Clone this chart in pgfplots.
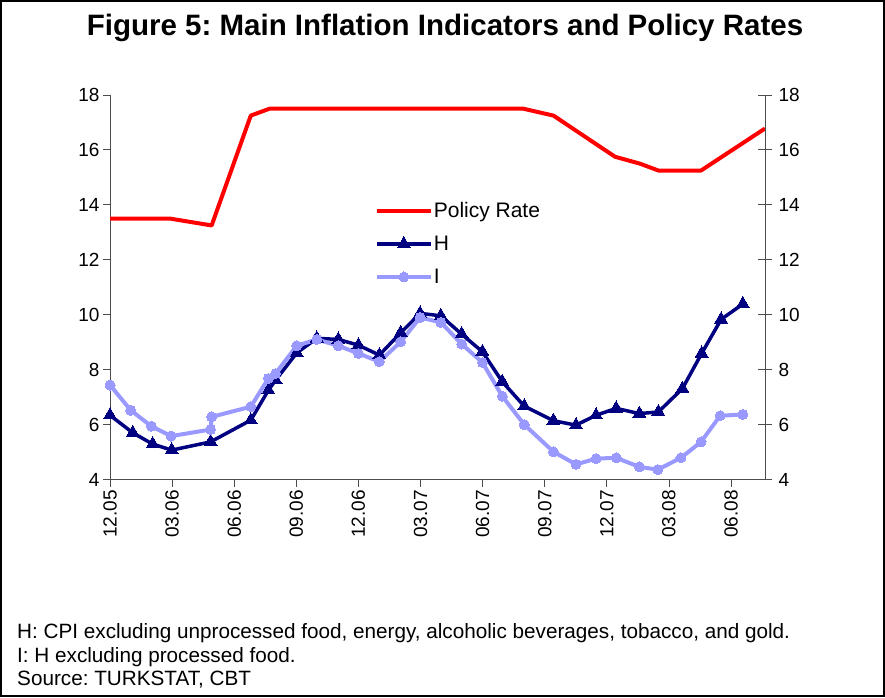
\documentclass[border=0pt]{standalone}
\usepackage{fontspec}
\setmainfont{Liberation Sans}
\usepackage{pgfplots}
\pgfplotsset{compat=1.18}
\definecolor{navyH}{RGB}{0,0,128}
\definecolor{lavI}{RGB}{153,153,255}
\definecolor{polred}{RGB}{255,0,0}
\frenchspacing
\begin{document}
\begin{tikzpicture}[x=1pt,y=1pt]
\useasboundingbox (0,0) rectangle (885,697);
\draw[line width=2pt] (1,1) rectangle (884,696);
\node[font=\fontsize{29.5}{34}\selectfont\bfseries] at (445,669) {Figure 5: Main Inflation Indicators and Policy Rates};
\node[anchor=base west, inner sep=0pt, font=\fontsize{20.7}{24}\selectfont] at (17,59) {H: CPI excluding unprocessed food, energy, alcoholic beverages, tobacco, and gold.};
\node[anchor=base west, inner sep=0pt, font=\fontsize{20.7}{24}\selectfont] at (17,35) {I: H excluding processed food.};
\node[anchor=base west, inner sep=0pt, font=\fontsize{20.7}{24}\selectfont] at (17,12) {Source: TURKSTAT, CBT};

\begin{axis}[
  scale only axis, width=655pt, height=384.5pt,
  at={(110pt,217.5pt)}, anchor=south west,
  xmin=0, xmax=31.64, ymin=4, ymax=18,
  axis x line*=bottom, axis y line*=left,
  axis line style={black!70, line width=0.9pt, -},
  xtick={0,3,...,30},
  xticklabels={12.05,03.06,06.06,09.06,12.06,03.07,06.07,09.07,12.07,03.08,06.08},
  ytick={4,6,...,18},
  tick align=outside, major tick length=7pt,
  tick style={black!70, line width=0.9pt},
  /pgf/number format/assume math mode=true,
  tick label style={font=\fontsize{19}{22}\selectfont},
  x tick label style={rotate=90, anchor=east},
  clip=false,
  legend cell align=left,
  legend style={at={(0.404,0.724)}, anchor=north west, draw=none, fill=none,
    font=\fontsize{21}{25}\selectfont, row sep=15pt, inner sep=0pt,
    nodes={inner sep=1pt}},
  legend image code/.code={%
    \draw[#1, mark repeat=2, mark phase=2] plot coordinates {(0pt,0pt) (27pt,0pt) (54pt,0pt)};},
]
\addplot[polred, line width=4pt, line join=round] coordinates {
(0,13.5) (2.90,13.5) (4.91,13.25) (6.80,17.25) (7.70,17.5) (19.97,17.5)
(21.42,17.25) (24.40,15.75) (25.60,15.5) (26.49,15.25) (28.55,15.25) (31.64,16.78)
};
\addlegendentry{Policy Rate}
\addplot[navyH, line width=3.5pt, line join=round, mark=triangle*, mark size=7.5pt, mark options={solid, line width=0pt, fill=navyH}] coordinates {
(0,6.34) (1.10,5.70) (2.06,5.29) (2.98,5.07) (4.86,5.37) (6.80,6.16) (7.65,7.25) (8.00,7.62)
(9.02,8.61) (9.99,9.14) (11.03,9.10) (12.00,8.89) (13.01,8.53) (14.04,9.34) (14.98,10.05)
(15.98,9.96) (16.99,9.29) (17.99,8.65) (18.95,7.56) (20.01,6.67) (21.42,6.14) (22.51,5.98)
(23.48,6.34) (24.45,6.59) (25.57,6.40) (26.49,6.46) (27.65,7.31) (28.58,8.59) (29.52,9.83) (30.57,10.39)
};
\addlegendentry{H}
\addplot[lavI, line width=4pt, line join=round, mark=*, mark size=5pt, mark options={solid, line width=0pt, fill=lavI}] coordinates {
(0,7.44) (1.0,6.52) (2.0,5.94) (2.95,5.58) (4.86,5.82) (4.91,6.28) (6.80,6.65) (7.65,7.68) (8.00,7.86)
(9.02,8.87) (9.99,9.10) (11.03,8.87) (12.00,8.59) (13.01,8.29) (14.04,9.01) (14.98,9.90)
(15.98,9.72) (16.99,8.93) (17.99,8.26) (18.95,7.03) (20.01,6.00) (21.42,5.01) (22.51,4.55)
(23.48,4.76) (24.45,4.79) (25.57,4.46) (26.46,4.36) (27.58,4.79) (28.55,5.37) (29.47,6.32) (30.57,6.37)
};
\addlegendentry{I}
\end{axis}

\begin{axis}[
  scale only axis, width=655pt, height=384.5pt,
  at={(110pt,217.5pt)}, anchor=south west,
  xmin=0, xmax=31.64, ymin=4, ymax=18,
  axis x line=none, axis y line*=right,
  axis line style={black!70, line width=0.9pt, -},
  ytick={4,6,...,18},
  tick align=center, major tick length=14pt,
  tick style={black!70, line width=0.9pt},
  /pgf/number format/assume math mode=true,
  tick label style={font=\fontsize{19}{22}\selectfont},
  yticklabel style={xshift=3pt},
]
\end{axis}
\end{tikzpicture}
\end{document}
